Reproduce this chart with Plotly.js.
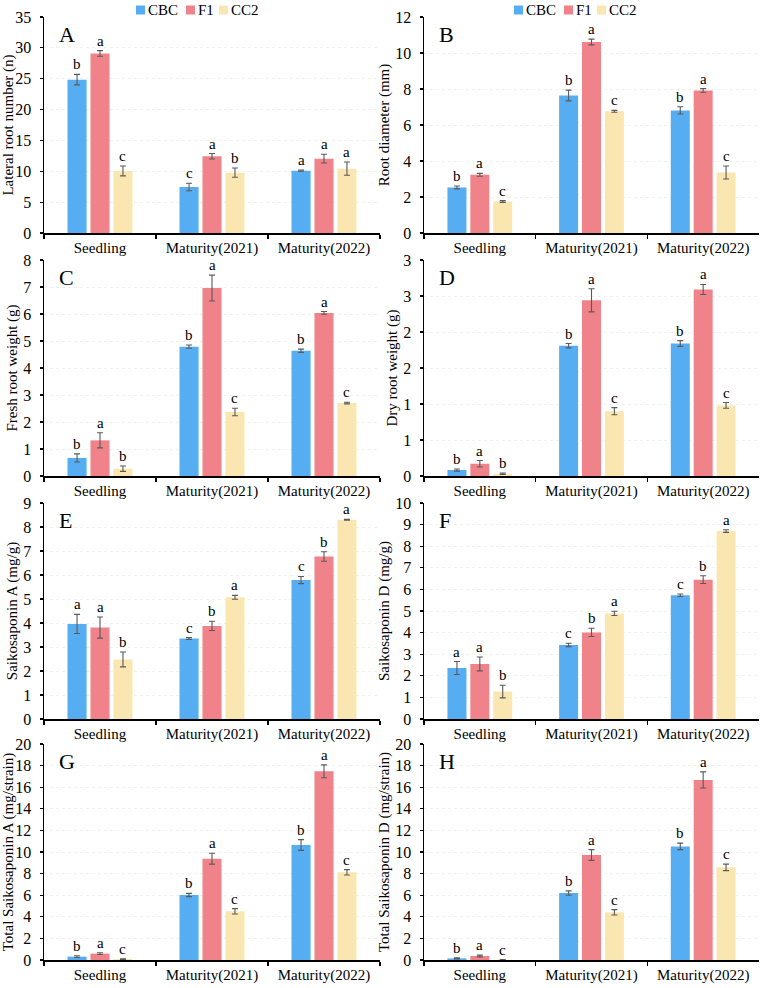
<!DOCTYPE html>
<html>
<head>
<meta charset="utf-8">
<script src="https://cdn.plot.ly/plotly-3.0.1.min.js"></script>
<style>
  html, body { margin: 0; padding: 0; background: #fff; }
  #chart { width: 762px; height: 988px; }
</style>
</head>
<body>
<div id="chart"></div>
<script>
// Growth stages and genotypes
const categories = ['Seedling', 'Maturity(2021)', 'Maturity(2022)'];
const seriesNames = ['CBC', 'F1', 'CC2'];
const seriesColors = ['#56ADF1', '#F0838A', '#FAE6B0'];

// Each table: one row per genotype (CBC, F1, CC2), one column per stage
// A - lateral root number
const lateralMean = [[24.85, 7.45, 10.1], [29.1, 12.43, 12.05], [10.05, 9.78, 10.43]];
const lateralErr  = [[0.85, 0.6, 0.1], [0.45, 0.45, 0.7], [0.8, 0.75, 1.07]];
const lateralSig  = [['b', 'c', 'a'], ['a', 'a', 'a'], ['c', 'b', 'a']];

// B - root diameter
const diameterMean = [[2.53, 7.64, 6.81], [3.23, 10.61, 7.92], [1.75, 6.76, 3.36]];
const diameterErr  = [[0.08, 0.3, 0.2], [0.08, 0.16, 0.1], [0.05, 0.05, 0.36]];
const diameterSig  = [['b', 'b', 'b'], ['a', 'a', 'a'], ['c', 'c', 'c']];

// C - fresh root weight
const freshMean = [[0.67, 4.79, 4.64], [1.32, 6.96, 6.04], [0.27, 2.37, 2.70]];
const freshErr  = [[0.15, 0.06, 0.06], [0.28, 0.48, 0.05], [0.1, 0.14, 0.03]];
const freshSig  = [['b', 'b', 'b'], ['a', 'a', 'a'], ['b', 'c', 'c']];

// D - dry root weight
const dryMean = [[0.083, 1.81, 1.84], [0.17, 2.44, 2.59], [0.03, 0.90, 0.98]];
const dryErr  = [[0.015, 0.03, 0.04], [0.045, 0.16, 0.07], [0.01, 0.05, 0.04]];
const drySig  = [['b', 'b', 'b'], ['a', 'a', 'a'], ['b', 'c', 'c']];
const dryTickValues = [0, 0.5, 1, 1.5, 2, 2.5, 3];
const dryTickLabels = ['0', '1', '1', '2', '2', '3', '3'];

// E - saikosaponin A content
const ssaMean = [[3.96, 3.35, 5.79], [3.81, 3.88, 6.77], [2.48, 5.07, 8.30]];
const ssaErr  = [[0.4, 0.04, 0.15], [0.44, 0.19, 0.2], [0.31, 0.08, 0.02]];
const ssaSig  = [['a', 'c', 'c'], ['a', 'b', 'b'], ['b', 'a', 'a']];

// F - saikosaponin D content
const ssdMean = [[2.36, 3.43, 5.73], [2.55, 4.01, 6.45], [1.27, 4.89, 8.70]];
const ssdErr  = [[0.3, 0.08, 0.06], [0.32, 0.19, 0.18], [0.29, 0.1, 0.06]];
const ssdSig  = [['a', 'c', 'c'], ['a', 'b', 'b'], ['b', 'a', 'a']];

// G - total saikosaponin A per plant
const totalSsaMean = [[0.31, 6.02, 10.65], [0.59, 9.38, 17.47], [0.09, 4.51, 8.12]];
const totalSsaErr  = [[0.08, 0.15, 0.5], [0.08, 0.5, 0.6], [0.03, 0.25, 0.25]];
const totalSsaSig  = [['b', 'b', 'b'], ['a', 'a', 'a'], ['c', 'c', 'c']];

// H - total saikosaponin D per plant
const totalSsdMean = [[0.15, 6.2, 10.52], [0.37, 9.72, 16.67], [0.02, 4.41, 8.58]];
const totalSsdErr  = [[0.05, 0.2, 0.3], [0.08, 0.5, 0.75], [0.02, 0.25, 0.3]];
const totalSsdSig  = [['b', 'b', 'b'], ['a', 'a', 'a'], ['c', 'c', 'c']];

const panels = [
  { letter: 'A', title: 'Lateral root number (n)', mean: lateralMean, err: lateralErr, sig: lateralSig, range: [0, 35], dtick: 5 },
  { letter: 'B', title: 'Root diameter (mm)', mean: diameterMean, err: diameterErr, sig: diameterSig, range: [0, 12], dtick: 2 },
  { letter: 'C', title: 'Fresh root weight (g)', mean: freshMean, err: freshErr, sig: freshSig, range: [0, 8], dtick: 1 },
  { letter: 'D', title: 'Dry root weight (g)', mean: dryMean, err: dryErr, sig: drySig, range: [0, 3], tickvals: dryTickValues, ticktext: dryTickLabels },
  { letter: 'E', title: 'Saikosaponin A (mg/g)', mean: ssaMean, err: ssaErr, sig: ssaSig, range: [0, 9], dtick: 1 },
  { letter: 'F', title: 'Saikosaponin D (mg/g)', mean: ssdMean, err: ssdErr, sig: ssdSig, range: [0, 10], dtick: 1 },
  { letter: 'G', title: 'Total Saikosaponin A (mg/strain)', mean: totalSsaMean, err: totalSsaErr, sig: totalSsaSig, range: [0, 20], dtick: 2 },
  { letter: 'H', title: 'Total Saikosaponin D (mg/strain)', mean: totalSsdMean, err: totalSsdErr, sig: totalSsdSig, range: [0, 20], dtick: 2 }
];

const W = 762, H = 988;
const FONT = "'Liberation Serif', 'Times New Roman', Times, serif";
const colX = [[44, 380], [424, 759]];          // plot left/right in px
const rowY = [[17, 233], [260, 476], [503, 719], [744, 960]]; // plot top/bottom in px
const BARGAP = 0.385, GROUPGAP = 0.17;
const slot = (1 - BARGAP) / seriesNames.length;

const data = [];
const layout = {
  width: W, height: H,
  margin: { l: 0, r: 0, t: 0, b: 0 },
  paper_bgcolor: '#fff', plot_bgcolor: '#fff',
  barmode: 'group', bargap: BARGAP, bargroupgap: GROUPGAP,
  showlegend: false,
  font: { family: FONT, size: 14, color: '#000' },
  annotations: [], shapes: []
};

panels.forEach((p, i) => {
  const row = Math.floor(i / 2), col = i % 2;
  const n = i === 0 ? '' : String(i + 1);
  const xa = 'x' + n, ya = 'y' + n;

  layout['xaxis' + n] = {
    domain: [colX[col][0] / W, colX[col][1] / W],
    anchor: ya, type: 'category', range: [-0.5, 2.5],
    showline: true, linecolor: '#000', linewidth: 1.5,
    ticks: 'outside', tickson: 'boundaries', ticklen: 4, tickwidth: 1.5, tickcolor: '#000',
    showgrid: false, zeroline: false, fixedrange: true,
    tickfont: { family: FONT, size: 15, color: '#000' }
  };
  const yax = {
    domain: [1 - rowY[row][1] / H, 1 - rowY[row][0] / H],
    anchor: xa, range: p.range,
    showline: true, linecolor: '#000', linewidth: 1.5,
    ticks: 'outside', ticklen: 3, tickwidth: 1.2, tickcolor: '#000',
    ticklabelstandoff: 5,
    showgrid: true, gridcolor: '#f0f0f0', gridwidth: 1, griddash: 'dot',
    zeroline: false, fixedrange: true,
    tickfont: { family: FONT, size: 16, color: '#000' },
    title: { text: p.title, font: { family: FONT, size: 15, color: '#000' }, standoff: 2 }
  };
  if (p.tickvals) {
    yax.tickmode = 'array'; yax.tickvals = p.tickvals; yax.ticktext = p.ticktext;
  } else {
    yax.tickmode = 'linear'; yax.tick0 = 0; yax.dtick = p.dtick;
  }
  layout['yaxis' + n] = yax;

  seriesNames.forEach((name, s) => {
    data.push({
      type: 'bar', name: name, x: categories, y: p.mean[s],
      xaxis: xa, yaxis: ya,
      marker: { color: seriesColors[s], line: { width: 0 } },
      error_y: { type: 'data', array: p.err[s], visible: true, color: '#5a5a5a', thickness: 1.1, width: 3 },
      hoverinfo: 'skip'
    });
    // significance letters above each error bar
    categories.forEach((c, k) => {
      layout.annotations.push({
        xref: xa, yref: ya,
        x: k + (s - 1) * slot, y: p.mean[s][k] + p.err[s][k],
        text: p.sig[s][k], showarrow: false,
        xanchor: 'center', yanchor: 'bottom', yshift: 0,
        font: { family: FONT, size: 15, color: '#000' }
      });
    });
  });

  // panel letter
  layout.annotations.push({
    xref: xa + ' domain', yref: ya + ' domain', x: 0.04, y: 0.985,
    xanchor: 'left', yanchor: 'top', text: p.letter, showarrow: false,
    font: { family: FONT, size: 22, color: '#000' }
  });
});

// legend rows above the two top panels
[136, 514].forEach(x0 => {
  const squareOffsets = [0, 50, 83];
  seriesNames.forEach((name, s) => {
    const sx = x0 + squareOffsets[s];
    layout.shapes.push({
      type: 'rect', xref: 'paper', yref: 'paper',
      x0: sx / W, x1: (sx + 9) / W, y0: 1 - 14.5 / H, y1: 1 - 5.5 / H,
      fillcolor: seriesColors[s], line: { width: 0 }
    });
    layout.annotations.push({
      xref: 'paper', yref: 'paper', x: (sx + 10) / W, y: 1 - 10 / H,
      xanchor: 'left', yanchor: 'middle', text: name, showarrow: false,
      font: { family: FONT, size: 15, color: '#000' }
    });
  });
});

Plotly.newPlot('chart', data, layout, { displayModeBar: false, staticPlot: true });
</script>
</body>
</html>
